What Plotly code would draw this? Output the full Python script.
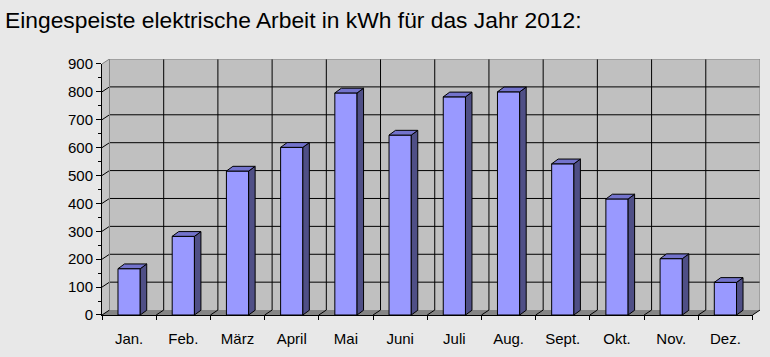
import plotly.graph_objects as go

# ---------------- data ----------------
months = ["Jan.", "Feb.", "März", "April", "Mai", "Juni",
          "Juli", "Aug.", "Sept.", "Okt.", "Nov.", "Dez."]
energy_kwh = [166, 282, 516, 601, 796, 645, 782, 800, 542, 416, 202, 117]
y_tick_values = [0, 100, 200, 300, 400, 500, 600, 700, 800, 900]
title_text = "Eingespeiste elektrische Arbeit in kWh für das Jahr 2012:"

# ---------------- style / pseudo-3D geometry ----------------
WALL_DX = 0.138      # depth offset of back wall (category units)
WALL_DY = 17.7       # depth offset of back wall (value units)
BAR_W = 0.41
BAR_DX = 0.12
BAR_DY = 17.0
FONT = "Liberation Sans, Arial, sans-serif"

n = len(months)
x0, x1 = -0.5, n - 0.5
ymax = y_tick_values[-1]
bounds = [i - 0.5 for i in range(n + 1)]

shapes = []
def line(xa, ya, xb, yb, color="black", width=1):
    shapes.append(dict(type="line", xref="x", yref="y", x0=xa, y0=ya, x1=xb, y1=yb,
                       line=dict(color=color, width=width), layer="below"))

def poly(pts, fill, color="rgba(0,0,0,0)", width=0):
    path = "M " + " L ".join(f"{px},{py}" for px, py in pts) + " Z"
    shapes.append(dict(type="path", xref="x", yref="y", path=path, fillcolor=fill,
                       line=dict(color=color, width=width), layer="below"))

# back wall
poly([(x0 + WALL_DX, WALL_DY), (x1 + WALL_DX, WALL_DY),
      (x1 + WALL_DX, ymax + WALL_DY), (x0 + WALL_DX, ymax + WALL_DY)], "#c0c0c0")
# left wall
poly([(x0, 0), (x0 + WALL_DX, WALL_DY), (x0 + WALL_DX, ymax + WALL_DY), (x0, ymax)], "#c4c4c4")
# floor
poly([(x0, 0), (x1, 0), (x1 + WALL_DX, WALL_DY), (x0 + WALL_DX, WALL_DY)], "#858585")

# back-wall horizontal gridlines + left-wall stubs
for v in y_tick_values:
    if 0 < v < ymax:
        line(x0 + WALL_DX, v + WALL_DY, x1 + WALL_DX, v + WALL_DY)
    if v > 0:
        line(x0, v, x0 + WALL_DX, v + WALL_DY, color="black" if v < ymax else "#808080")
# back-wall vertical gridlines + floor stubs
for b in bounds:
    if x0 < b < x1:
        line(b + WALL_DX, WALL_DY, b + WALL_DX, ymax + WALL_DY)
    line(b, 0, b + WALL_DX, WALL_DY)
# wall borders (gray)
line(x0 + WALL_DX, WALL_DY, x0 + WALL_DX, ymax + WALL_DY, color="#808080")
line(x0 + WALL_DX, ymax + WALL_DY, x1 + WALL_DX, ymax + WALL_DY, color="#808080")
line(x1 + WALL_DX, WALL_DY, x1 + WALL_DX, ymax + WALL_DY, color="#808080")

# ---------------- traces ----------------
fig = go.Figure()

fig.add_trace(go.Bar(
    x=list(range(n)), y=energy_kwh, width=BAR_W,
    marker=dict(color="#9999ff", line=dict(color="black", width=1)),
    hoverinfo="skip", showlegend=False))

side_x, side_y, top_x, top_y = [], [], [], []
for i, v in enumerate(energy_kwh):
    xl, xr = i - BAR_W / 2, i + BAR_W / 2
    side_x += [xr, xr + BAR_DX, xr + BAR_DX, xr, xr, None]
    side_y += [0, BAR_DY, v + BAR_DY, v, 0, None]
    top_x += [xl, xr, xr + BAR_DX, xl + BAR_DX, xl, None]
    top_y += [v, v, v + BAR_DY, v + BAR_DY, v, None]

fig.add_trace(go.Scatter(x=side_x, y=side_y, mode="lines", fill="toself",
                         fillcolor="#4f4f86", line=dict(color="black", width=1),
                         hoverinfo="skip", showlegend=False))
fig.add_trace(go.Scatter(x=top_x, y=top_y, mode="lines", fill="toself",
                         fillcolor="#7373cc", line=dict(color="black", width=1),
                         hoverinfo="skip", showlegend=False))

# invisible trace that carries the front axes
fig.add_trace(go.Scatter(x=[0], y=[0], xaxis="x2", yaxis="y2", mode="markers",
                         marker=dict(opacity=0), hoverinfo="skip", showlegend=False))

tickfont = dict(family=FONT, size=15, color="black")
fig.update_layout(
    width=770, height=357,
    margin=dict(l=102, r=10, t=59, b=39),
    paper_bgcolor="#e8e8e8", plot_bgcolor="rgba(0,0,0,0)",
    shapes=shapes,
    title=dict(text=title_text, x=5 / 770, xanchor="left", y=1 - 20 / 357, yanchor="middle",
               font=dict(family=FONT, size=22.8, color="black")),
    xaxis=dict(range=[x0, x1 + WALL_DX], domain=[0, 1], anchor="y", visible=False, fixedrange=True),
    yaxis=dict(range=[0, ymax + WALL_DY], domain=[0, 1], anchor="x", visible=False, fixedrange=True),
    xaxis2=dict(range=[x0, x1], domain=[0, (x1 - x0) / (x1 - x0 + WALL_DX)], anchor="y2",
                tickmode="array", tickvals=list(range(n)), ticktext=months,
                ticks="outside", ticklen=10, tickcolor="rgba(0,0,0,0)",
                minor=dict(tickmode="array", tickvals=bounds, ticks="outside", ticklen=4,
                           tickcolor="black", showgrid=False),
                showline=True, linecolor="black", linewidth=1,
                showgrid=False, zeroline=False, tickfont=tickfont),
    yaxis2=dict(range=[0, ymax], domain=[0, ymax / (ymax + WALL_DY)], anchor="x2",
                tickmode="array", tickvals=y_tick_values,
                ticks="outside", ticklen=5, tickcolor="black",
                minor=dict(tick0=0, dtick=50, ticks="outside", ticklen=3,
                           tickcolor="black", showgrid=False),
                showline=True, linecolor="black", linewidth=1,
                showgrid=False, zeroline=False, tickfont=tickfont),
)

fig.write_html("out.html", config={"displayModeBar": False},
               post_script="document.body.style.margin='0';document.body.style.overflow='hidden';")
